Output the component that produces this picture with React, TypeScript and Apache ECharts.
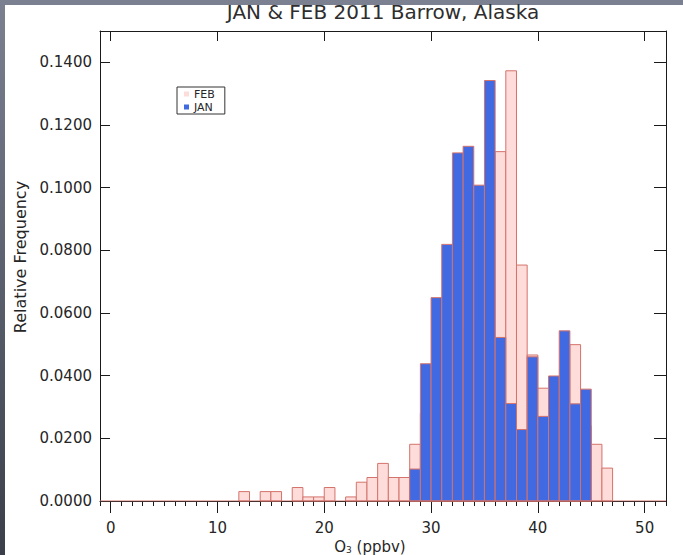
import React, { useEffect, useRef } from 'react';
import * as echarts from 'echarts';

// Left edge of each 1 ppbv ozone bin
const ozoneBins = [
  12, 13, 14, 15, 16, 17, 18, 19, 20, 21, 22, 23, 24, 25, 26, 27, 28, 29,
  30, 31, 32, 33, 34, 35, 36, 37, 38, 39, 40, 41, 42, 43, 44, 45, 46,
];

// Relative frequency of hourly O3 per bin, February 2011
const febFreq = [
  0.003, 0, 0.003, 0.003, 0, 0.0043, 0.0013, 0.0013, 0.0043, 0, 0.0013, 0.006,
  0.0075, 0.012, 0.0075, 0.0075, 0.0181, 0.028, 0.042, 0.048, 0.055, 0.052,
  0.058, 0.07, 0.1115, 0.1373, 0.0753, 0.0466, 0.036, 0.028, 0.03, 0.0499,
  0.024, 0.0181, 0.0105,
];

// Relative frequency of hourly O3 per bin, January 2011
const janFreq = [
  0, 0, 0, 0, 0, 0, 0, 0, 0, 0, 0, 0, 0, 0, 0, 0, 0.0102, 0.0438, 0.0649,
  0.0819, 0.1111, 0.1132, 0.1008, 0.1342, 0.0522, 0.0311, 0.0228, 0.046,
  0.027, 0.0399, 0.0543, 0.031, 0.0357, 0, 0,
];

const xMajorTicks = [0, 10, 20, 30, 40, 50];
const xMinorTicks = [
  -1, 0, 1, 2, 3, 4, 5, 6, 7, 8, 9, 10, 11, 12, 13, 14, 15, 16, 17, 18, 19,
  20, 21, 22, 23, 24, 25, 26, 27, 28, 29, 30, 31, 32, 33, 34, 35, 36, 37, 38,
  39, 40, 41, 42, 43, 44, 45, 46, 47, 48, 49, 50, 51, 52,
];
const yTicks = [0, 0.02, 0.04, 0.06, 0.08, 0.1, 0.12, 0.14];

const FONT = 'DejaVu Sans';
const TEXT = '#262626';
const AXIS = '#1a1a1a';
const EDGE = '#d4736b';
const FEB_FILL = '#fddcda';
const JAN_FILL = '#4169e1';

function histogram(name: string, freq: number[], fill: string, z: number) {
  const data = ozoneBins
    .map((b, i) => [b, freq[i]])
    .filter((d) => d[1] > 0);
  return {
    type: 'custom',
    name,
    z,
    data,
    encode: { x: 0, y: 1 },
    itemStyle: { color: fill },
    renderItem: (_params: any, api: any) => {
      const left = api.value(0);
      const v = api.value(1);
      const topLeft = api.coord([left, v]);
      const bottomRight = api.coord([left + 1, 0]);
      return {
        type: 'rect',
        shape: {
          x: topLeft[0],
          y: topLeft[1],
          width: bottomRight[0] - topLeft[0],
          height: bottomRight[1] - topLeft[1],
        },
        style: { fill, stroke: EDGE, lineWidth: 1 },
      };
    },
  };
}

export default function App() {
  const ref = useRef<HTMLDivElement>(null);

  useEffect(() => {
    document.body.style.margin = '0';
    const chart = echarts.init(ref.current!, null, { renderer: 'svg' });

    const hidden = { show: false };
    const frameLine = {
      show: true,
      onZero: false,
      lineStyle: { color: AXIS, width: 1 },
    };

    chart.setOption({
      animation: false,
      backgroundColor: {
        type: 'linear',
        x: 0,
        y: 0,
        x2: 0,
        y2: 1,
        colorStops: [
          { offset: 0, color: '#7b8191' },
          { offset: 1, color: '#3a3f4a' },
        ],
      },
      graphic: [
        {
          type: 'rect',
          z: -10,
          shape: { x: 5, y: 5, width: 678, height: 550 },
          style: { fill: '#ffffff' },
        },
      ],
      title: {
        text: 'JAN & FEB 2011 Barrow, Alaska',
        left: 383,
        top: 2,
        padding: 0,
        textAlign: 'center',
        textStyle: {
          fontFamily: FONT,
          fontSize: 20,
          fontWeight: 'normal',
          color: '#2e2e2e',
        },
      },
      legend: {
        data: [{ name: 'FEB' }, { name: 'JAN' }],
        orient: 'vertical',
        left: 177,
        top: 87,
        padding: [1, 10, 1, 7],
        itemGap: 1,
        itemWidth: 5,
        itemHeight: 5,
        icon: 'rect',
        borderColor: '#333333',
        borderWidth: 1,
        backgroundColor: '#ffffff',
        textStyle: {
          fontFamily: FONT,
          fontSize: 11,
          lineHeight: 12,
          color: TEXT,
        },
      },
      grid: {
        left: 100,
        right: 17,
        top: 31,
        bottom: 54,
        containLabel: false,
        outerBoundsMode: 'none',
      },
      xAxis: [
        {
          type: 'value',
          position: 'bottom',
          min: -1,
          max: 52,
          name: '{n|O}{s|3}{n| (ppbv)}',
          nameLocation: 'middle',
          nameGap: 33,
          nameTextStyle: {
            fontFamily: FONT,
            color: TEXT,
            padding: [0, 26, 0, 0],
            rich: {
              n: { fontFamily: FONT, fontSize: 15, lineHeight: 15, color: TEXT },
              s: {
                fontFamily: FONT,
                fontSize: 9,
                lineHeight: 15,
                color: TEXT,
                verticalAlign: 'bottom',
              },
            },
          },
          axisLine: frameLine,
          axisTick: {
            show: true,
            inside: false,
            length: 12,
            customValues: xMajorTicks,
            lineStyle: { color: AXIS },
          },
          axisLabel: {
            customValues: xMajorTicks,
            margin: 19,
            fontFamily: FONT,
            fontSize: 15,
            color: TEXT,
          },
          splitLine: hidden,
        },
        {
          type: 'value',
          position: 'bottom',
          min: -1,
          max: 52,
          axisLine: { show: false, onZero: false },
          axisTick: {
            show: true,
            inside: false,
            length: 5,
            customValues: xMinorTicks,
            lineStyle: { color: AXIS },
          },
          axisLabel: hidden,
          splitLine: hidden,
        },
        {
          type: 'value',
          position: 'top',
          min: -1,
          max: 52,
          axisLine: frameLine,
          axisTick: {
            show: true,
            inside: true,
            length: 10,
            customValues: xMajorTicks,
            lineStyle: { color: AXIS },
          },
          axisLabel: hidden,
          splitLine: hidden,
        },
      ],
      yAxis: [
        {
          type: 'value',
          position: 'left',
          min: 0,
          max: 0.15,
          name: 'Relative Frequency',
          nameLocation: 'middle',
          nameGap: 68,
          nameTextStyle: {
            fontFamily: FONT,
            fontSize: 16,
            color: TEXT,
            padding: [0, 0, 0, 18],
          },
          axisLine: frameLine,
          axisTick: {
            show: true,
            inside: true,
            length: 10,
            customValues: yTicks,
            lineStyle: { color: AXIS },
          },
          axisLabel: {
            customValues: yTicks,
            margin: 8,
            fontFamily: FONT,
            fontSize: 15,
            color: TEXT,
            formatter: (v: number) => v.toFixed(4),
          },
          splitLine: hidden,
        },
        {
          type: 'value',
          position: 'right',
          min: 0,
          max: 0.15,
          axisLine: frameLine,
          axisTick: {
            show: true,
            inside: true,
            length: 12,
            customValues: yTicks,
            lineStyle: { color: AXIS },
          },
          axisLabel: hidden,
          splitLine: hidden,
        },
      ],
      series: [
        histogram('FEB', febFreq, FEB_FILL, 2),
        histogram('JAN', janFreq, JAN_FILL, 3),
        {
          type: 'line',
          name: 'baseline',
          z: 4,
          silent: true,
          symbol: 'none',
          data: [
            [-1, 0],
            [52, 0],
          ],
          lineStyle: { color: EDGE, width: 1 },
        },
      ],
    });

    return () => chart.dispose();
  }, []);

  return <div ref={ref} style={{ width: 683, height: 555 }} />;
}
